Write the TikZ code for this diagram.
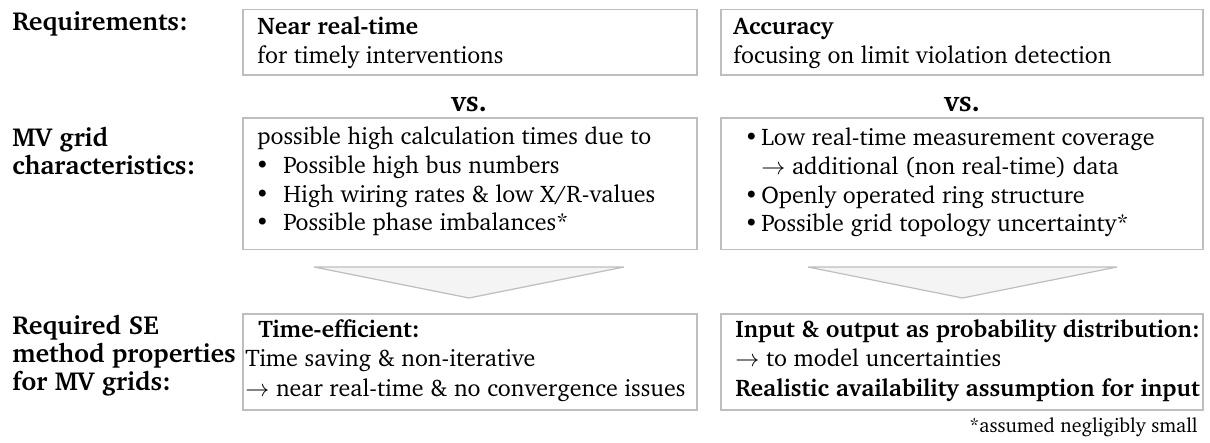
\documentclass[tikz,border=0pt]{standalone}
\usepackage[T1]{fontenc}
\usepackage{charter}
\definecolor{boxgray}{RGB}{190,190,190}
\definecolor{trifill}{RGB}{244,244,244}
\newcommand{\lns}[1]{\begin{tabular}[t]{@{}l@{}}#1\end{tabular}}
\tikzset{
  boxframe/.style={draw=boxgray, line width=0.6pt},
  txt/.style={anchor=base west, inner sep=0pt, font=\fontsize{12}{14.3}\selectfont},
  lbl/.style={anchor=base west, inner sep=0pt, font=\fontsize{13}{13.7}\selectfont\bfseries},
  vslbl/.style={anchor=base, inner sep=0pt, font=\fontsize{14.4}{16}\selectfont\bfseries},
  funnel/.style={draw=boxgray, fill=trifill, line width=0.6pt, line join=miter},
}
\newcommand{\bulA}{\makebox[14pt][l]{\textbullet}}
\newcommand{\bulB}{\makebox[8.5pt][l]{\textbullet}}
\begin{document}
\begin{tikzpicture}[x=0.5pt, y=-0.5pt]
\useasboundingbox (0,0) rectangle (1210,443);
% left labels
\node[lbl] (lreq) at (12,31) {Requirements:};
\node[lbl] (lmv) at (12,147) {\lns{MV grid\\characteristics:}};
\node[lbl] (lse) at (12,335) {\lns{Required SE\\method properties\\for MV grids:}};
% top boxes
\draw[boxframe] (243,9.5) rectangle (697,75);
\draw[boxframe] (721,9.5) rectangle (1203,75);
\node[txt] (t1) at (257,35) {\lns{\textbf{Near real-time}\\for timely interventions}};
\node[txt] (t2) at (733,35) {\lns{\textbf{Accuracy}\\focusing on limit violation detection}};
% vs
\node[vslbl] (vs1) at (469,112) {vs.};
\node[vslbl] (vs2) at (962,112) {vs.};
% middle boxes
\draw[boxframe] (243,118) rectangle (697,249.5);
\draw[boxframe] (721,118) rectangle (1203,249.5);
\node[txt] (m1) at (255,145) {\lns{\hspace*{1pt}possible high calculation times due to\\
  \bulA Possible high bus numbers\\
  \bulA High wiring rates \& low X/R-values\\
  \bulA Possible phase imbalances*}};
\node[txt] (m2) at (744,146) {\lns{\bulB Low real-time measurement coverage\\
  \hspace*{8.5pt}$\rightarrow$ additional (non real-time) data\\
  \bulB Openly operated ring structure\\
  \bulB Possible grid topology uncertainty*}};
% funnels
\draw[funnel] (314,267) -- (624,267) -- (469,298) -- cycle;
\draw[funnel] (808,267) -- (1117,267) -- (962.5,298) -- cycle;
% bottom boxes
\draw[boxframe] (243,314) rectangle (697,410);
\draw[boxframe] (721,314) rectangle (1203,410);
\node[txt, font=\fontsize{12}{14.8}\selectfont] (b1) at (245,337) {\lns{\hspace*{6.5pt}\textbf{Time-efficient:}\\
  Time saving \& non-iterative\\
  $\rightarrow$ near real-time \& no convergence issues}};
\node[txt, font=\fontsize{12}{14.8}\selectfont] (b2) at (735,337) {\lns{\scalebox{0.985}[1]{\textbf{Input \& output as probability distribution:}}\\
  $\rightarrow$ to model uncertainties\\
  \textbf{Realistic availability assumption for input}}};
% footnote
\node[anchor=base east, inner sep=0pt, font=\fontsize{10}{12}\selectfont] (fn) at (1198,432) {*assumed negligibly small};
\end{tikzpicture}
\end{document}
